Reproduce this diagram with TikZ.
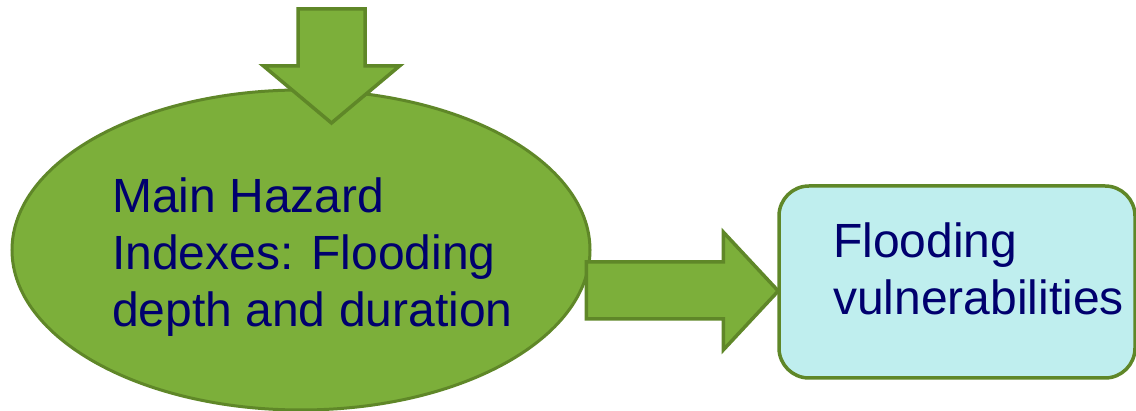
\documentclass[tikz,border=0pt]{standalone}
\usepackage{fontspec}
\setmainfont{Liberation Sans}
\usepackage{tikz}
\usetikzlibrary{shapes.geometric, calc}
\definecolor{leaf}{RGB}{124,175,58}
\definecolor{leafedge}{RGB}{95,135,40}
\definecolor{paleaqua}{RGB}{191,238,238}
\definecolor{inkblue}{RGB}{0,0,110}
\tikzstyle{hazard} = [ellipse, minimum width=578pt, minimum height=320pt, inner sep=0pt, draw=leafedge, fill=leaf, line width=3pt]
\tikzstyle{outcome} = [rectangle, rounded corners=30pt, minimum width=356pt, minimum height=192pt, draw=leafedge, fill=paleaqua, line width=3.5pt]
\tikzstyle{caption} = [align=left, inner sep=0pt, text=inkblue, font=\fontsize{48}{57}\selectfont]
\tikzstyle{fatarrow} = [draw=leafedge, fill=leaf, line width=3.5pt, line join=miter]
\begin{document}
\begin{tikzpicture}[x=1pt, y=1pt]
\useasboundingbox (0,0) rectangle (1136,-411);
\node (main hazard) [hazard] at (301,-250) {};
\node (flood vuln) [outcome] at (957,-282) {};

\coordinate (feed) at (331.5,-9);
\coordinate (tip) at ($(flood vuln.west)+(1,-9)$);

\draw [fatarrow] (feed) +(-33.5,0) -- +(33.5,0) -- +(33.5,-57) -- +(68,-57) -- +(0,-114) -- +(-68,-57) -- +(-33.5,-57) -- cycle;
\draw [fatarrow] (tip) -- +(-55,59) -- +(-55,29) -- +(-192,29) -- +(-192,-28) -- +(-55,-28) -- +(-55,-59) -- cycle;

\node (hazard text) [caption, anchor=north west] at (112,-178) {Main Hazard\\Indexes: Flooding\\depth and duration};
\node (vuln text) [caption, anchor=north west] at (833,-223) {Flooding\\vulnerabilities};
\end{tikzpicture}
\end{document}
